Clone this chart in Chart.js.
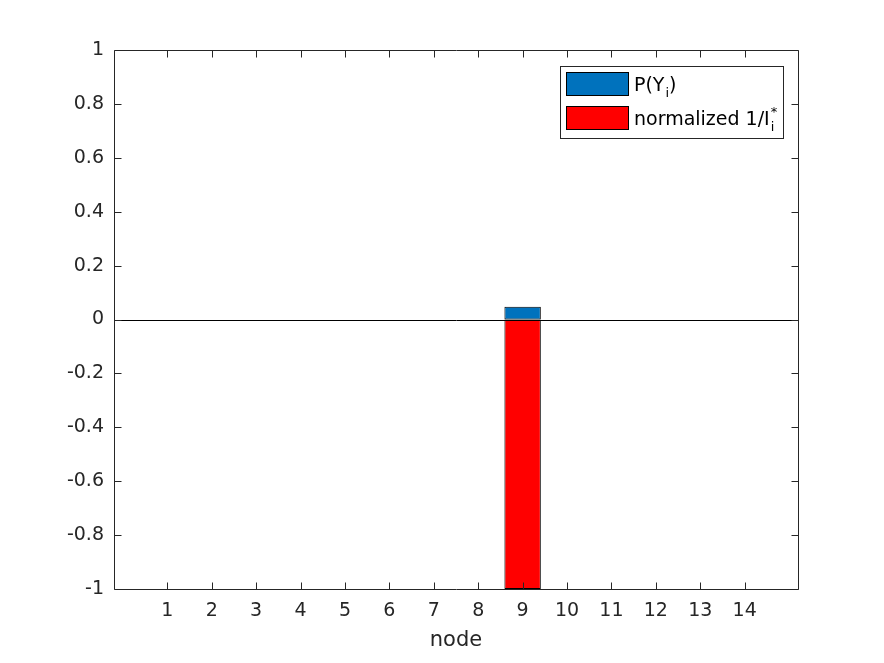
<!DOCTYPE html>
<html>
<head>
<meta charset="utf-8">
<script src="https://cdn.jsdelivr.net/npm/chart.js@4"></script>
<style>
    html, body { margin: 0; padding: 0; background: #fff; }
    #wrap { width: 884px; height: 663px; position: relative; }
</style>
</head>
<body>
<div id="wrap"><canvas id="barChart" width="884" height="663"></canvas></div>
<script>
// ===== DATA =====
const nodes = [1, 2, 3, 4, 5, 6, 7, 8, 9, 10, 11, 12, 13, 14];
const probY = [0, 0, 0, 0, 0, 0, 0, 0, 0.047, 0, 0, 0, 0, 0];
const normInvI = [0, 0, 0, 0, 0, 0, 0, 0, -1, 0, 0, 0, 0, 0];
const yTicks = [-1, -0.8, -0.6, -0.4, -0.2, 0, 0.2, 0.4, 0.6, 0.8, 1];

const AXIS_COLOR = '#262626';
const FONT = 'DejaVu Sans';

// inward ticks on all four sides, box and zero line (MATLAB look)
const axesBox = {
    id: 'axesBox',
    afterDatasetsDraw(chart) {
        const { ctx, chartArea: a, scales } = chart;
        const L = Math.round(a.left) + 0.5, R = Math.round(a.right) + 0.5;
        const T = Math.round(a.top) + 0.5, B = Math.round(a.bottom) + 0.5;
        const len = 7;
        ctx.save();
        // baseline at 0
        const y0 = Math.round(scales.y.getPixelForValue(0)) + 0.5;
        ctx.strokeStyle = '#000';
        ctx.lineWidth = 1;
        ctx.beginPath();
        ctx.moveTo(L, y0);
        ctx.lineTo(R, y0);
        ctx.stroke();

        ctx.strokeStyle = AXIS_COLOR;
        ctx.beginPath();
        ctx.rect(L, T, R - L, B - T);
        yTicks.forEach(v => {
            const y = Math.round(scales.y.getPixelForValue(v)) + 0.5;
            ctx.moveTo(L, y); ctx.lineTo(L + len, y);
            ctx.moveTo(R, y); ctx.lineTo(R - len, y);
        });
        nodes.forEach(v => {
            const x = Math.round(scales.x.getPixelForValue(v)) + 0.5;
            ctx.moveTo(x, B); ctx.lineTo(x, B - len);
            ctx.moveTo(x, T); ctx.lineTo(x, T + len);
        });
        ctx.stroke();
        ctx.restore();
    }
};

// legend with subscript / superscript text
const matLegend = {
    id: 'matLegend',
    afterDraw(chart) {
        const ctx = chart.ctx;
        const bx = 560.5, by = 66.5, bw = 223, bh = 72;
        ctx.save();
        ctx.fillStyle = '#fff';
        ctx.fillRect(bx, by, bw, bh);
        ctx.strokeStyle = AXIS_COLOR;
        ctx.lineWidth = 1;
        ctx.strokeRect(bx, by, bw, bh);

        const items = [
            { color: '#0072BD', y: 72.5, parts: [['P(Y', 0], ['i', 1], [')', 0]] },
            { color: '#FF0000', y: 106.5, parts: [['normalized 1/I', 0], ['i', 1], ['*', -1]] }
        ];
        items.forEach(it => {
            ctx.fillStyle = it.color;
            ctx.fillRect(566.5, it.y, 62, 23);
            ctx.strokeStyle = '#000';
            ctx.strokeRect(566.5, it.y, 62, 23);

            let x = 634;
            const base = it.y + 18;
            ctx.fillStyle = '#000';
            ctx.textBaseline = 'alphabetic';
            ctx.textAlign = 'left';
            let lastW = 0;
            it.parts.forEach(([txt, mode]) => {
                if (mode === 0) {
                    ctx.font = '19px ' + FONT;
                    ctx.fillText(txt, x, base);
                    x += ctx.measureText(txt).width;
                    lastW = 0;
                } else if (mode === 1) {
                    ctx.font = '13px ' + FONT;
                    ctx.fillText(txt, x + 1, base + 6);
                    lastW = ctx.measureText(txt).width + 1;
                    x += lastW;
                } else {
                    ctx.font = '13px ' + FONT;
                    ctx.fillText(txt, x - lastW + 1, base - 9);
                }
            });
        });
        ctx.restore();
    }
};

const ctx = document.getElementById('barChart');
new Chart(ctx, {
    type: 'bar',
    data: {
        datasets: [
            {
                label: 'P(Y_i)',
                data: nodes.map((n, i) => ({ x: n, y: probY[i] })),
                backgroundColor: '#0072BD',
                borderColor: '#000',
                borderWidth: 1,
                borderSkipped: false,
                stack: 'a'
            },
            {
                label: 'normalized 1/I_i^*',
                data: nodes.map((n, i) => ({ x: n, y: normInvI[i] })),
                backgroundColor: '#FF0000',
                borderColor: '#000',
                borderWidth: 1,
                borderSkipped: false,
                stack: 'a'
            }
        ]
    },
    options: {
        responsive: false,
        animation: false,
        events: [],
        layout: { padding: { left: 0, right: 86, top: 50, bottom: 10 } },
        datasets: {
            bar: { categoryPercentage: 1, barPercentage: 0.82 }
        },
        plugins: {
            legend: { display: false },
            tooltip: { enabled: false }
        },
        scales: {
            x: {
                type: 'linear',
                stacked: true,
                offset: false,
                min: -0.2,
                max: 15.2,
                grid: { display: false, drawTicks: false },
                border: { display: false },
                afterBuildTicks: s => { s.ticks = nodes.map(v => ({ value: v })); },
                afterFit: s => { s.height = 64; },
                ticks: {
                    autoSkip: false,
                    maxRotation: 0,
                    padding: 11,
                    color: AXIS_COLOR,
                    font: { family: FONT, size: 19 },
                    callback: v => String(v)
                },
                title: {
                    display: true,
                    text: 'node',
                    color: AXIS_COLOR,
                    font: { family: FONT, size: 21 },
                    padding: { top: 0, bottom: 0 }
                }
            },
            y: {
                stacked: true,
                min: -1,
                max: 1,
                grid: { display: false, drawTicks: false },
                border: { display: false },
                afterBuildTicks: s => { s.ticks = yTicks.map(v => ({ value: v })); },
                afterFit: s => { s.width = 114; },
                ticks: {
                    padding: 10,
                    color: AXIS_COLOR,
                    font: { family: FONT, size: 19 },
                    callback: v => String(Number(v.toFixed(1)))
                }
            }
        }
    },
    plugins: [axesBox, matLegend]
});
</script>
</body>
</html>
